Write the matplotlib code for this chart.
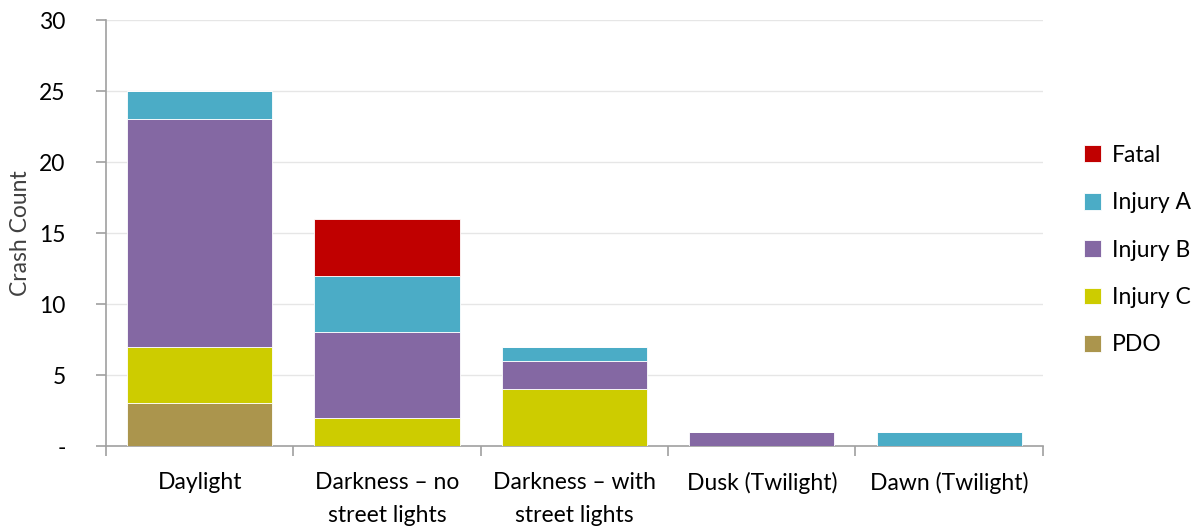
import matplotlib.pyplot as plt
import numpy as np

plt.rcParams['font.family'] = ['Lato', 'DejaVu Sans']

categories = ["Daylight", "Darkness \u2013 no\nstreet lights", "Darkness \u2013 with\nstreet lights",
              "Dusk (Twilight)", "Dawn (Twilight)"]
pdo = [3, 0, 0, 0, 0]
injury_c = [4, 2, 4, 0, 0]
injury_b = [16, 6, 2, 1, 0]
injury_a = [2, 4, 1, 0, 1]
fatal = [0, 4, 0, 0, 0]

series = [("PDO", pdo, "#AB954D"),
          ("Injury C", injury_c, "#CDCC00"),
          ("Injury B", injury_b, "#8468A3"),
          ("Injury A", injury_a, "#4BACC6"),
          ("Fatal", fatal, "#C00000")]

fs = 16.5
fig = plt.figure(figsize=(11.98, 5.27), dpi=100)
ax = fig.add_axes([0.0885, 0.1537, 0.782, 0.8083])

x = np.arange(len(categories))
bottom = np.zeros(len(categories))
handles = []
for name, vals, col in series:
    b = ax.bar(x, vals, 0.775, bottom=bottom, color=col, edgecolor="white",
               linewidth=0.6, label=name, zorder=3)
    handles.append(b)
    bottom += np.array(vals)

ax.set_xlim(-0.5, len(categories) - 0.5)
ax.set_ylim(0, 30)
ax.set_yticks(range(0, 31, 5))
ax.set_yticklabels(["-"] + [str(v) for v in range(5, 31, 5)], fontsize=fs)
ax.yaxis.grid(True, color="#e6e6e6", linewidth=1, zorder=0)

ax.set_xticks(x)
ax.set_xticklabels(categories, fontsize=fs, linespacing=1.7)
ax.set_xticks(np.arange(-0.5, len(categories)), minor=True)
ax.tick_params(axis="x", which="major", length=0, pad=19)
ax.tick_params(axis="x", which="minor", length=7, color="#a0a0a0", width=1.2)
ax.tick_params(axis="y", length=7, color="#a0a0a0", width=1.2, pad=22)

for s in ["top", "right"]:
    ax.spines[s].set_visible(False)
for s in ["left", "bottom"]:
    ax.spines[s].set_color("#a0a0a0")
    ax.spines[s].set_linewidth(1.2)

ax.set_ylabel("Crash Count", fontsize=fs, color="#404040", labelpad=6)

leg = ax.legend(handles=handles[::-1], loc="center left", bbox_to_anchor=(1.022, 0.46),
                frameon=False, fontsize=fs, handlelength=0.75, handleheight=0.75,
                handletextpad=0.45, labelspacing=1.15)

fig.savefig("out.png", dpi=100)
